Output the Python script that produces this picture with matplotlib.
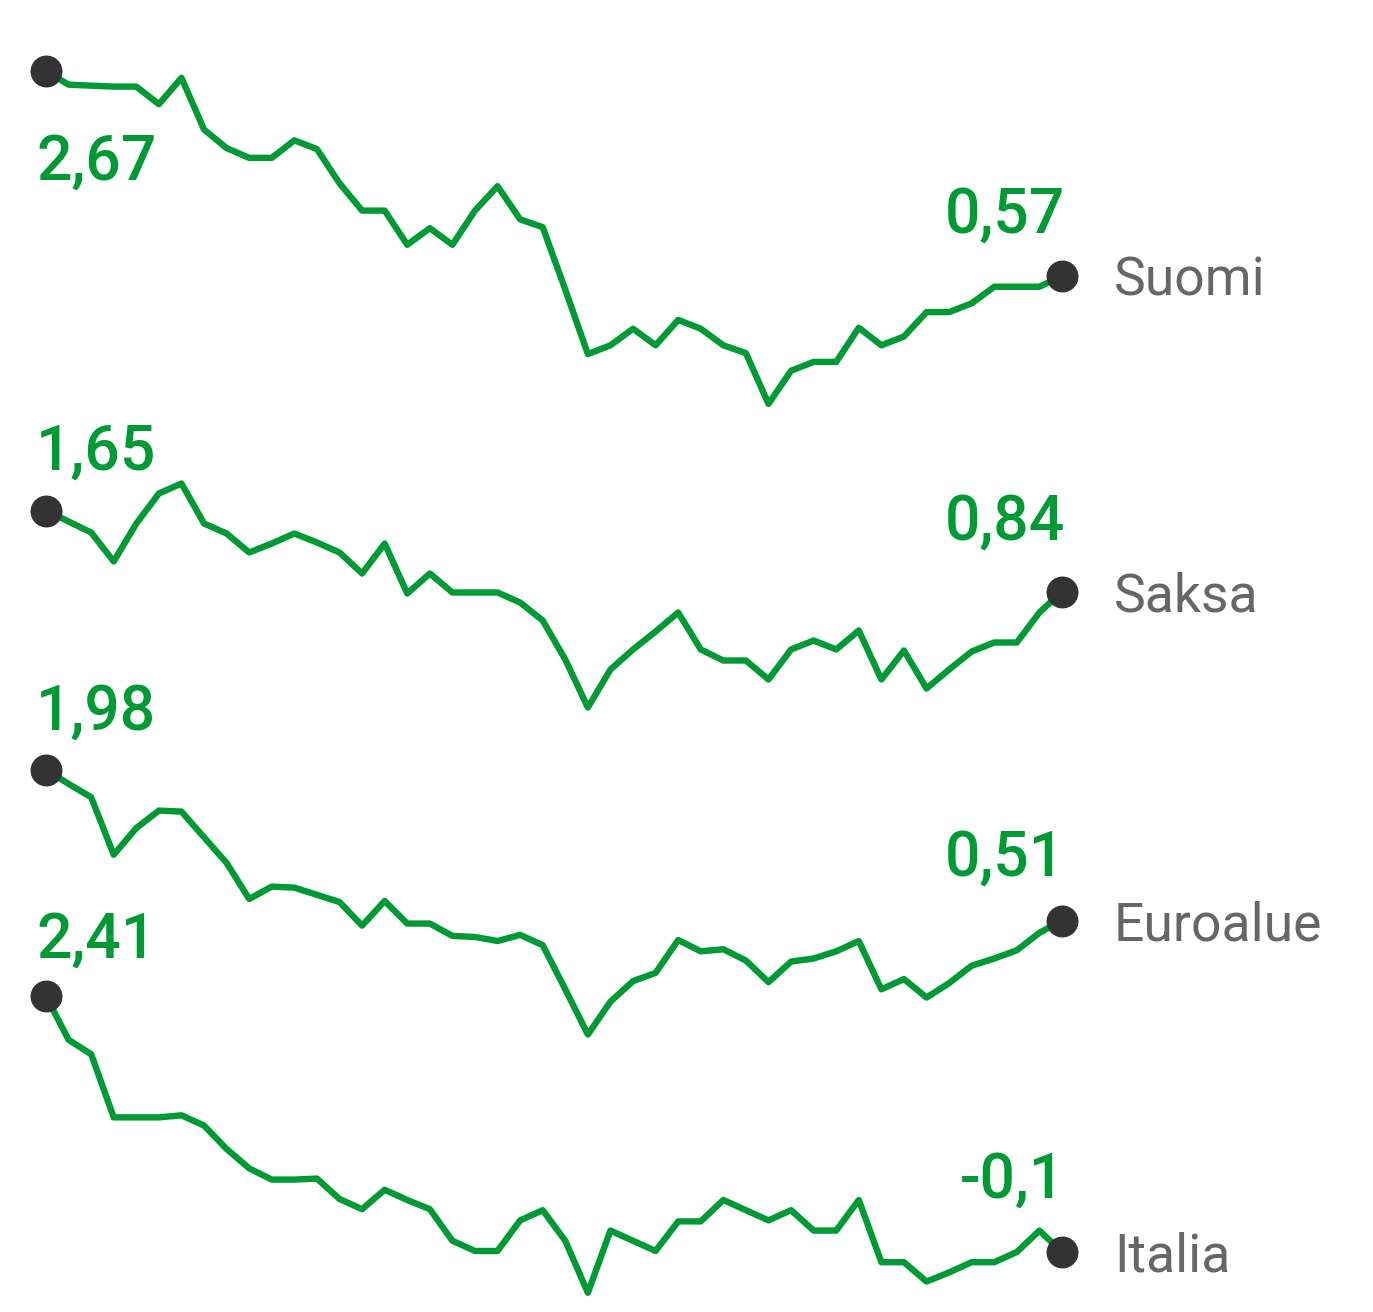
import matplotlib
matplotlib.use("Agg")
import matplotlib.pyplot as plt

plt.rcParams['font.family'] = ['Roboto', 'DejaVu Sans']

names = ["Suomi", "Saksa", "Euroalue", "Italia"]

suomi = [2.67, 2.53, 2.52, 2.51, 2.51, 2.33, 2.60, 2.07, 1.88, 1.78,
         1.78, 1.96, 1.87, 1.52, 1.24, 1.24, 0.89, 1.06, 0.89, 1.24,
         1.49, 1.15, 1.07, 0.43, -0.23, -0.14, 0.03, -0.14, 0.12, 0.03,
         -0.14, -0.22, -0.74, -0.40, -0.31, -0.31, 0.04, -0.14, -0.05, 0.20,
         0.20, 0.29, 0.46, 0.46, 0.46, 0.57]
saksa = [1.65, 1.54, 1.43, 1.14, 1.52, 1.82, 1.92, 1.52, 1.42, 1.23,
         1.32, 1.42, 1.33, 1.23, 1.02, 1.32, 0.82, 1.02, 0.83, 0.83,
         0.83, 0.73, 0.55, 0.16, -0.32, 0.06, 0.26, 0.44, 0.63, 0.26,
         0.15, 0.15, -0.04, 0.26, 0.35, 0.26, 0.45, -0.04, 0.25, -0.13,
         0.06, 0.24, 0.33, 0.33, 0.63, 0.84]
euroalue = [1.98, 1.84, 1.71, 1.15, 1.41, 1.58, 1.57, 1.32, 1.07, 0.72,
            0.84, 0.83, 0.76, 0.69, 0.46, 0.70, 0.48, 0.48, 0.36, 0.35,
            0.31, 0.37, 0.27, -0.16, -0.60, -0.28, -0.08, 0.00, 0.32, 0.21,
            0.23, 0.12, -0.09, 0.11, 0.14, 0.21, 0.31, -0.16, -0.06, -0.24,
            -0.10, 0.07, 0.14, 0.22, 0.39, 0.51]
italia = [2.41, 1.98, 1.84, 1.22, 1.22, 1.22, 1.24, 1.14, 0.91, 0.72,
          0.61, 0.61, 0.62, 0.42, 0.32, 0.51, 0.41, 0.32, 0.01, -0.09,
          -0.09, 0.21, 0.31, 0.01, -0.50, 0.11, 0.01, -0.09, 0.20, 0.20,
          0.41, 0.31, 0.21, 0.31, 0.11, 0.11, 0.41, -0.20, -0.20, -0.39,
          -0.30, -0.20, -0.20, -0.10, 0.11, -0.10]

start_labels = ["2,67", "1,65", "1,98", "2,41"]
end_labels = ["0,57", "0,84", "0,51", "-0,1"]

series = [suomi, saksa, euroalue, italia]

# ---- layout (pixels) ----
W, H = 1373, 1312
x_first_px, x_last_px = 46, 1062
y_first_px = [71, 510.5, 769.5, 996]
y_last_px = [276, 591.5, 920.5, 1252]
start_dy = [-109, 41, 40, 38]   # baseline offset from first dot (up positive)
end_dy = [43, 52, 45, 54]

GREEN = "#009a35"
DOT = "#333333"
GREY = "#666666"

fig = plt.figure(figsize=(W / 100, H / 100), dpi=100)

for k, vals in enumerate(series):
    n = len(vals)
    ax = fig.add_axes([0, 0, 1, 1])
    ax.patch.set_alpha(0)
    ax.axis("off")
    # x mapping
    xs_per_px = (n - 1) / (x_last_px - x_first_px)
    ax.set_xlim(-x_first_px * xs_per_px, (W - x_first_px) * xs_per_px)
    # y mapping (pixel rows counted from top)
    v0, v1 = vals[0], vals[-1]
    units_per_px = (v0 - v1) / (y_last_px[k] - y_first_px[k])
    top = v0 + y_first_px[k] * units_per_px
    bottom = v0 - (H - y_first_px[k]) * units_per_px
    ax.set_ylim(bottom, top)

    xs = list(range(n))
    ax.plot(xs, vals, color=GREEN, lw=4.6, solid_joinstyle="round",
            solid_capstyle="round", zorder=2)
    ax.plot([xs[0], xs[-1]], [vals[0], vals[-1]], "o", color=DOT,
            markersize=23, markeredgewidth=0, zorder=3)

    ax.annotate(start_labels[k], xy=(xs[0], vals[0]), xytext=(-10, start_dy[k]),
                textcoords="offset pixels", ha="left", va="baseline",
                fontsize=45, fontweight="medium", color=GREEN)
    ax.annotate(end_labels[k], xy=(xs[-1], vals[-1]), xytext=(3, end_dy[k]),
                textcoords="offset pixels", ha="right", va="baseline",
                fontsize=45, fontweight="medium", color=GREEN)
    ax.annotate(names[k], xy=(xs[-1], vals[-1]), xytext=(52, -20),
                textcoords="offset pixels", ha="left", va="baseline",
                fontsize=38.5, color=GREY)

fig.savefig("out.png", dpi=100)
